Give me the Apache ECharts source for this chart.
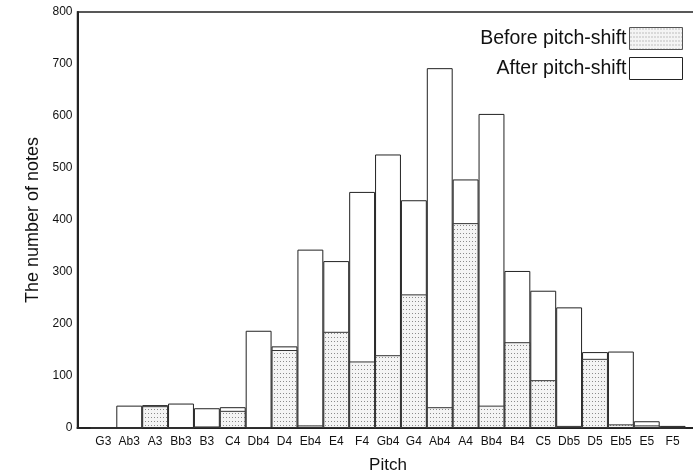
<!DOCTYPE html>
<html>
<head>
<meta charset="utf-8">
<script src="https://cdn.jsdelivr.net/npm/echarts@6/dist/echarts.min.js"></script>
<style>html,body{margin:0;padding:0;background:#fff}#c{width:693px;height:476px}</style>
</head>
<body>
<div id="c"></div>
<script>
var categories = ['G3','Ab3','A3','Bb3','B3','C4','Db4','D4','Eb4','E4','F4','Gb4','G4','Ab4','A4','Bb4','B4','C5','Db5','D5','Eb5','E5','F5'];
var beforeShift = [0,0,42,0,3,33,1,150,5,185,128,140,257,40,394,43,165,92,4,133,7,5,0];
var afterShift = [0,43,44,47,38,40,187,157,343,321,454,526,438,692,478,604,302,264,232,146,147,13,4];
var yTicks = [0,100,200,300,400,500,600,700,800];

function makePattern(){
  var cv = document.createElement('canvas');
  cv.width = 3; cv.height = 4;
  var ctx = cv.getContext('2d');
  ctx.fillStyle = '#f4f4f4';
  ctx.fillRect(0,0,3,4);
  ctx.fillStyle = '#8a8a8a';
  ctx.fillRect(1,1,1,1);
  return cv;
}
var pat = {image: makePattern(), repeat: 'repeat'};
var FONT = 'Liberation Sans, Arial, sans-serif';

var chart = echarts.init(document.getElementById('c'), null, {renderer:'canvas'});
chart.setOption({
  animation: false,
  backgroundColor: '#fff',
  textStyle: {fontFamily: FONT},
  grid: {left: 77.5, width: 621, top: 12, height: 416, outerBoundsMode: 'none', containLabel: false, show: true, borderColor: '#222', borderWidth: 1.5, backgroundColor: 'transparent'},
  legend: {
    orient: 'vertical', right: 5, top: 22, align: 'right',
    itemWidth: 53, itemHeight: 22, itemGap: 7,
    textStyle: {fontSize: 19.5, color: '#111', fontFamily: FONT, padding: [0, -2, 0, 0]},
    data: [
      {name: 'Before pitch-shift', icon: 'rect', itemStyle: {color: pat, borderColor: '#555', borderWidth: 1}},
      {name: 'After pitch-shift', icon: 'rect', itemStyle: {color: '#fff', borderColor: '#222', borderWidth: 1}}
    ]
  },
  xAxis: {
    type: 'value', min: 0, max: 24, interval: 1,
    name: 'Pitch', nameLocation: 'middle', nameGap: 29,
    nameTextStyle: {fontSize: 17, color: '#111', fontFamily: FONT},
    axisLine: {show: true, onZero: false, lineStyle: {color: '#222', width: 2}},
    axisTick: {show: false},
    splitLine: {show: false},
    axisLabel: {
      fontSize: 12, color: '#111', margin: 8, fontFamily: FONT,
      formatter: function(v){ return (v >= 1 && v <= categories.length) ? categories[v-1] : ''; }
    }
  },
  yAxis: {
    type: 'value', min: yTicks[0], max: yTicks[yTicks.length-1], interval: 100,
    name: 'The number of notes', nameLocation: 'middle', nameGap: 35,
    nameTextStyle: {fontSize: 18, color: '#111', fontFamily: FONT},
    axisLine: {show: true, lineStyle: {color: '#222', width: 2}},
    axisTick: {show: false},
    splitLine: {show: false},
    axisLabel: {fontSize: 12, color: '#111', margin: 5, fontFamily: FONT}
  },
  series: [
    {
      name: 'After pitch-shift', type: 'bar', barWidth: 25.9, barGap: '-100%',
      itemStyle: {color: '#fff', borderColor: '#222', borderWidth: 1},
      data: afterShift.map(function(v,i){ return [i+1, v]; }),
      z: 2
    },
    {
      name: 'Before pitch-shift', type: 'bar', barWidth: 25.9, barGap: '-100%',
      itemStyle: {color: pat, borderColor: '#333', borderWidth: 1},
      data: beforeShift.map(function(v,i){ return [i+1, v]; }),
      z: 3
    }
  ]
});
</script>
</body>
</html>
